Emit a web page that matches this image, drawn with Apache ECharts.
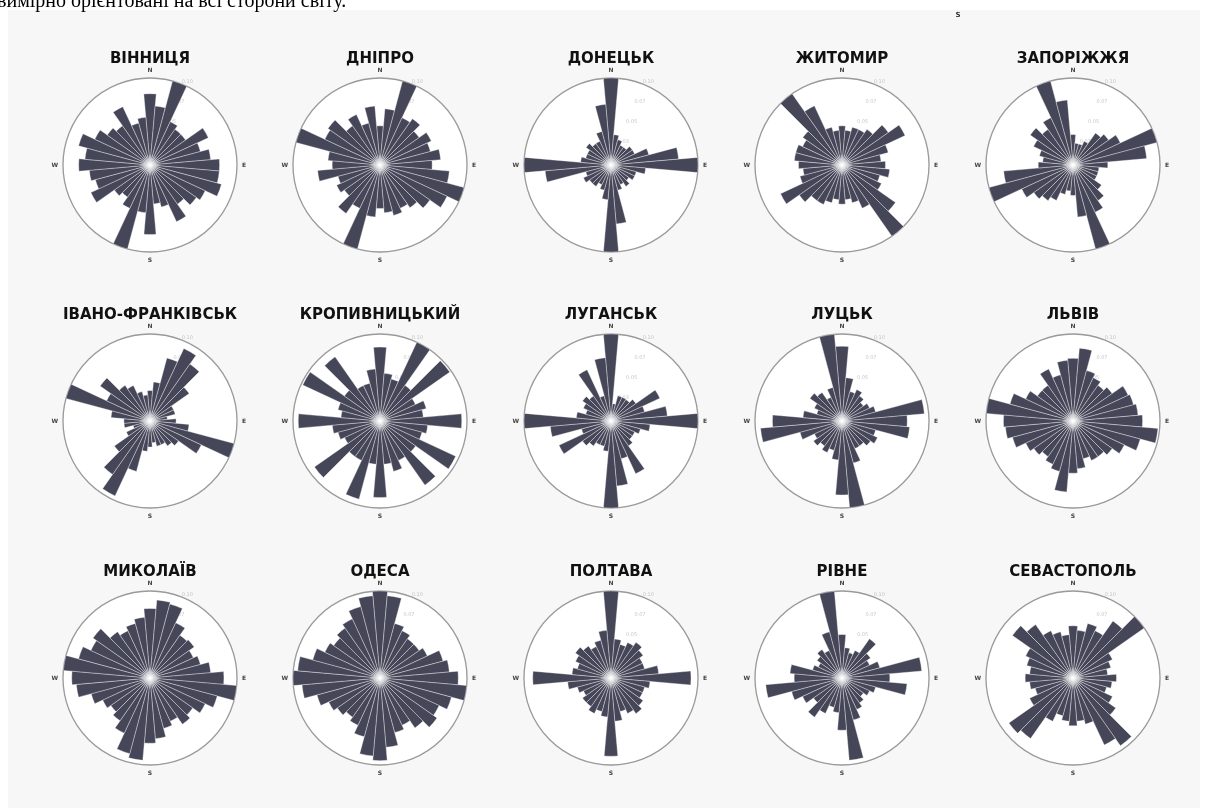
<!DOCTYPE html>
<html>
<head>
<meta charset="utf-8">
<script src="https://cdn.jsdelivr.net/npm/echarts@6/dist/echarts.min.js"></script>
<style>
  html, body { margin: 0; padding: 0; background: #ffffff; }
  #panel { position: absolute; left: 8px; top: 10px; width: 1192px; height: 798px; background: #f7f7f7; }
  #chart { position: absolute; left: 0; top: 0; width: 1208px; height: 808px; }
</style>
</head>
<body>
<div id="panel"></div>
<div id="chart"></div>
<script>
// Wind direction frequency (%) per 10° sector, clockwise from north.
const CITIES = ['ВІННИЦЯ', 'ДНІПРО', 'ДОНЕЦЬК', 'ЖИТОМИР', 'ЗАПОРІЖЖЯ',
  'ІВАНО-ФРАНКІВСЬК', 'КРОПИВНИЦЬКИЙ', 'ЛУГАНСЬК', 'ЛУЦЬК', 'ЛЬВІВ',
  'МИКОЛАЇВ', 'ОДЕСА', 'ПОЛТАВА', 'РІВНЕ', 'СЕВАСТОПОЛЬ'];

const DIRECTIONS = [0, 10, 20, 30, 40, 50, 60, 70, 80, 90, 100, 110, 120, 130, 140, 150, 160, 170,
  180, 190, 200, 210, 220, 230, 240, 250, 260, 270, 280, 290, 300, 310, 320, 330, 340, 350];

const VINNYTSIA = [8.2, 6.8, 10, 5.5, 5, 5, 7.4, 6, 7, 8, 8, 8.5, 7, 6.5, 5.5, 7.2, 5, 4.5,
  8, 5.5, 10, 5.5, 4.5, 5, 7.5, 6.5, 7, 8.2, 7.5, 8.5, 7, 6, 5.5, 7.4, 5, 5.5];
const DNIPRO = [4.5, 6.5, 10, 6, 6.5, 5.5, 6.5, 6, 7, 6, 8, 10, 8.5, 7, 6, 5.5, 6, 5.5,
  5, 6, 10, 5.5, 6.8, 5, 5.5, 5, 7.2, 5.5, 6, 10, 7, 7.3, 5.5, 6.4, 5, 6.8];
const DONETSK = [10, 3.5, 3, 2.5, 2.5, 3, 3, 4.5, 7.8, 10, 4, 3, 3, 2.5, 3, 2.5, 3, 6.8,
  10, 4, 3, 2.5, 3, 3, 3.5, 3, 7.6, 10, 3.5, 3, 3, 3.5, 3, 3, 4, 7];
const ZHYTOMYR = [4.5, 4, 4.5, 4.5, 5, 6.5, 8, 5.5, 4.5, 5, 5.5, 4.5, 5, 7.5, 10, 5.5, 4.5, 4,
  4.5, 4, 4.5, 5, 5, 6, 7.8, 5, 4.5, 5, 5.5, 5.5, 5, 5.5, 10, 7.5, 4.5, 4];
const ZAPORIZHZHIA = [3.5, 2.5, 2.5, 3, 4.5, 5, 6, 10, 8.5, 4, 3, 3, 3, 4, 5, 6, 10, 6,
  3.5, 3, 3.5, 4.5, 5, 5.5, 6.5, 10, 8, 4, 3.5, 4, 5, 6, 5, 6, 10, 7.5];
const IVANO_FRANKIVSK = [3.5, 4.5, 7.5, 9.2, 8, 5.5, 3, 3, 2, 3, 4.5, 10, 6.5, 4, 3.5, 3, 3, 2.5,
  3, 3.5, 6, 9.5, 7.5, 5, 3, 2, 3, 3, 4.5, 10, 5.5, 7, 5, 4.5, 3.5, 3];
const KROPYVNYTSKYI = [8.5, 5.5, 5, 10, 5, 9.8, 4.5, 5.5, 5, 9.4, 5.5, 5, 9.6, 5, 9, 5, 6, 5,
  8.8, 5, 9.3, 5, 5, 9.2, 4.5, 5, 5.5, 9.4, 4.5, 5, 9.8, 5, 9, 4.5, 4.5, 6];
const LUHANSK = [10, 2, 3, 3, 3, 3.5, 6.2, 4, 6.5, 10, 4.5, 3.5, 3, 3, 3.5, 6.7, 4.5, 7.5,
  10, 3.5, 3, 3, 3.5, 4, 6.6, 3.5, 7, 10, 4, 3, 3.5, 4, 3.5, 6.5, 3, 7.3];
const LUTSK = [8.6, 5, 3.5, 4, 3.5, 3, 3.5, 4, 9.5, 7.5, 7.8, 4, 4.5, 4, 3.5, 3.5, 5, 10,
  8.5, 4.5, 3.5, 4, 3.5, 4, 3.5, 5, 9.4, 8, 4.5, 3, 3.5, 4.5, 4, 3, 4, 10];
const LVIV = [7.2, 8.4, 6, 5.5, 5, 5.5, 7, 7.2, 7.5, 8, 9.8, 8, 6.5, 5.5, 5, 5, 4.5, 5.5,
  6, 8.2, 6, 5.5, 5, 5.5, 6, 7.2, 7.8, 8, 10, 7.5, 6, 5, 5, 6.6, 5.5, 7];
const MYKOLAIV = [8, 9, 8.8, 7, 6, 6.2, 5.5, 6, 7, 8.5, 10, 8, 7, 6, 6.5, 5.5, 6, 7,
  7.5, 9.5, 9, 7, 6, 5.5, 6, 7, 8.5, 9, 10, 8.5, 7.5, 8, 6.5, 6, 6.5, 7];
const ODESA = [10, 9.5, 6.5, 6, 5.5, 5.5, 6, 7.5, 8, 9, 10, 8.5, 7.5, 8, 7, 6, 6.5, 8,
  9.5, 9, 7, 6, 5.5, 6, 6.5, 7.5, 9, 10, 9.5, 8, 7, 6.5, 7, 7.5, 8.5, 9.5];
const POLTAVA = [10, 4.5, 4, 4.5, 5, 4.5, 4, 4, 5.5, 9.2, 4.5, 4, 4, 4.5, 5, 4.5, 4, 5,
  9, 4.5, 4, 4.5, 4, 4, 3.5, 4, 5, 9, 4.5, 4, 4.5, 5, 4.5, 4, 4.5, 5.5];
const RIVNE = [5, 3.5, 3, 3.5, 5.5, 4, 3.5, 4.5, 9.2, 5.5, 7.5, 4, 3.5, 3, 3.5, 4, 5, 9.5,
  6, 4, 3.5, 4.5, 5.5, 4, 5, 6, 8.8, 5.5, 6, 3.5, 3, 3.5, 4, 3.5, 5.5, 10];
const SEVASTOPOL = [6, 5.5, 6.5, 6, 8, 10, 5, 4.5, 4, 5, 4.5, 4, 5, 6, 9.5, 8.5, 5.5, 5,
  5.5, 5, 4.5, 5.5, 8.5, 9, 5.5, 4.5, 5, 5.5, 5, 5.5, 6, 8.5, 7.5, 6, 5.5, 5];

const FREQUENCIES = [VINNYTSIA, DNIPRO, DONETSK, ZHYTOMYR, ZAPORIZHZHIA,
  IVANO_FRANKIVSK, KROPYVNYTSKYI, LUHANSK, LUTSK, LVIV,
  MYKOLAIV, ODESA, POLTAVA, RIVNE, SEVASTOPOL];

const RING_TICKS = [2.5, 5, 7.5, 10];
const R_MAX = 10;
const COMPASS_LABELS = { 0: 'N', 90: 'E', 180: 'S', 270: 'W' };

// Grid layout of the small multiples
const COL_X = [150, 380, 611, 842, 1073];
const ROW_Y = [165, 421, 678];
const RADIUS = 87;
const BAR_COLOR = '#464659';
const GRID_COLOR = '#e2e2e2';

const chart = echarts.init(document.getElementById('chart'), null, { renderer: 'canvas' });

const option = {
  animation: false,
  backgroundColor: 'transparent',
  polar: [],
  angleAxis: [],
  radiusAxis: [],
  series: [],
  graphic: [
    {
      type: 'text', x: -3, y: 12,
      style: { text: 'вимірно орієнтовані на всі сторони світу.', font: '20px "Liberation Serif"',
        fill: '#000', textVerticalAlign: 'bottom' }
    },
    {
      type: 'text', x: 958, y: 15,
      style: { text: 'S', font: 'bold 7px "DejaVu Sans"', fill: '#333',
        textAlign: 'center', textVerticalAlign: 'middle' }
    }
  ]
};

CITIES.forEach((name, i) => {
  const cx = COL_X[i % 5];
  const cy = ROW_Y[Math.floor(i / 5)];
  const gridIdx = 2 * i;      // frame: rings, spokes, compass letters
  const barIdx = 2 * i + 1;   // 36 direction sectors

  option.polar.push({ center: [cx, cy], radius: RADIUS }, { center: [cx, cy], radius: RADIUS });

  option.angleAxis.push({
    polarIndex: gridIdx, type: 'value', min: 0, max: 360, interval: 45,
    startAngle: 90, clockwise: true,
    axisLine: { show: true, lineStyle: { color: '#9a9a9a', width: 1.3 } },
    axisTick: { show: false },
    axisLabel: { show: true, margin: 5, fontSize: 6, fontWeight: 'bold', color: '#444',
      fontFamily: 'DejaVu Sans', formatter: v => COMPASS_LABELS[v] || '' },
    splitLine: { show: true, lineStyle: { color: GRID_COLOR, width: 0.8 } },
    splitArea: { show: true, areaStyle: { color: ['#ffffff'] } }
  });
  option.angleAxis.push({
    polarIndex: barIdx, type: 'category', data: DIRECTIONS,
    startAngle: 95, clockwise: true, boundaryGap: true,
    axisLine: { show: false }, axisTick: { show: false },
    axisLabel: { show: false }, splitLine: { show: false }, splitArea: { show: false }
  });

  option.radiusAxis.push({
    polarIndex: gridIdx, type: 'value', min: 0, max: R_MAX, interval: 2.5,
    axisLine: { show: false }, axisTick: { show: false }, axisLabel: { show: false },
    splitLine: { show: true, lineStyle: { color: GRID_COLOR, width: 0.8 } }
  });
  option.radiusAxis.push({
    polarIndex: barIdx, type: 'value', min: 0, max: R_MAX,
    axisLine: { show: false }, axisTick: { show: false }, axisLabel: { show: false },
    splitLine: { show: false }
  });

  // ring value labels along the NNE ray
  option.series.push({
    type: 'scatter', coordinateSystem: 'polar', polarIndex: gridIdx,
    data: RING_TICKS.map(r => [r, 22.5]),
    symbolSize: 1, itemStyle: { color: 'transparent' }, silent: true, z: 1,
    label: { show: true, position: 'inside', fontSize: 5, color: '#b8b8b8',
      fontFamily: 'DejaVu Sans', offset: [4, -3],
      formatter: p => (p.value[0] / 100).toFixed(2) }
  });

  option.series.push({
    type: 'bar', coordinateSystem: 'polar', polarIndex: barIdx,
    data: FREQUENCIES[i], barCategoryGap: '0%', silent: true, z: 3,
    itemStyle: { color: BAR_COLOR, borderColor: '#ffffff', borderWidth: 0.35 }
  });

  // soft light spot where the sector edges meet
  option.graphic.push({
    type: 'circle', x: cx, y: cy, z: 100, silent: true,
    shape: { cx: 0, cy: 0, r: 11 },
    style: {
      fill: {
        type: 'radial', x: 0.5, y: 0.5, r: 0.5,
        colorStops: [
          { offset: 0, color: 'rgba(255,255,255,0.95)' },
          { offset: 0.35, color: 'rgba(255,255,255,0.55)' },
          { offset: 1, color: 'rgba(255,255,255,0)' }
        ]
      }
    }
  });

  option.graphic.push({
    type: 'text', x: cx, y: cy - 106,
    style: { text: name, font: 'bold 15px "DejaVu Sans"', fill: '#111',
      textAlign: 'center', textVerticalAlign: 'middle' }
  });
});

chart.setOption(option);
</script>
</body>
</html>
